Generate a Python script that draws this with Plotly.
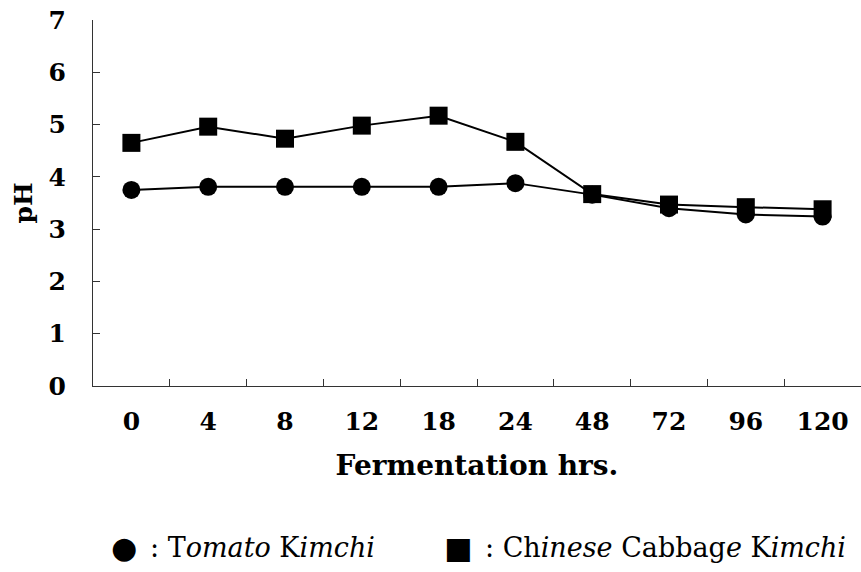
import plotly.graph_objects as go

hours = ["0", "4", "8", "12", "18", "24", "48", "72", "96", "120"]
tomato_ph = [3.75, 3.81, 3.81, 3.81, 3.81, 3.88, 3.66, 3.40, 3.28, 3.24]
cabbage_ph = [4.65, 4.96, 4.73, 4.98, 5.17, 4.67, 3.67, 3.47, 3.42, 3.38]
y_ticks = [0, 1, 2, 3, 4, 5, 6, 7]

tick_font = dict(family="DejaVu Serif", size=25, color="black", weight="bold")

fig = go.Figure()
fig.add_trace(go.Scatter(
    x=hours, y=tomato_ph, mode="lines+markers", name="Tomato Kimchi",
    marker=dict(symbol="circle", size=18, color="black"),
    line=dict(color="black", width=2), showlegend=False))
fig.add_trace(go.Scatter(
    x=hours, y=cabbage_ph, mode="lines+markers", name="Chinese Cabbage Kimchi",
    marker=dict(symbol="square", size=18, color="black"),
    line=dict(color="black", width=2), showlegend=False))

fig.update_layout(
    width=861, height=572,
    margin=dict(l=93, r=0, t=20, b=186),
    plot_bgcolor="white", paper_bgcolor="white",
)
fig.update_xaxes(
    type="category", range=[-0.5, 9.5], automargin=False,
    showline=True, linecolor="#333", linewidth=1,
    ticks="inside", tickson="boundaries", ticklen=7, tickcolor="#333",
    showgrid=False, tickfont=tick_font, ticklabelstandoff=13,
    ticklabeloverflow="allow",
    title=dict(text="Fermentation hrs.", font=dict(family="DejaVu Serif", size=28, color="black", weight="bold"), standoff=20),
)
fig.update_yaxes(
    range=[0, 7], tickvals=y_ticks, automargin=False,
    showline=True, linecolor="#333", linewidth=1,
    ticks="inside", ticklen=7, tickcolor="#333",
    showgrid=False, zeroline=False, tickfont=tick_font, ticklabelstandoff=21,
    ticklabeloverflow="allow",
    title=dict(text="pH", font=dict(family="DejaVu Serif", size=25, color="black", weight="bold"), standoff=8),
)

legend_font = dict(family="DejaVu Serif", size=27, color="black")
glyph_font = dict(family="DejaVu Sans", size=30, color="black")
ly = -0.4426
fig.add_annotation(xref="paper", yref="paper", x=0.041, y=ly, xanchor="center", yanchor="middle",
                   text="●", showarrow=False, font=glyph_font)
fig.add_annotation(xref="paper", yref="paper", x=0.072, y=ly, xanchor="left", yanchor="middle",
                   text=": T<i>omato</i> K<i>imchi</i>", showarrow=False, font=legend_font)
fig.add_annotation(xref="paper", yref="paper", x=0.475, y=ly, xanchor="center", yanchor="middle",
                   text="■", showarrow=False, font=glyph_font)
fig.add_annotation(xref="paper", yref="paper", x=0.508, y=ly, xanchor="left", yanchor="middle",
                   text=": Ch<i>inese</i> Cabbag<i>e</i> K<i>imchi</i>", showarrow=False, font=legend_font)

fig.write_html("out.html", config={"displayModeBar": False},
               post_script="document.body.style.margin='0';")
